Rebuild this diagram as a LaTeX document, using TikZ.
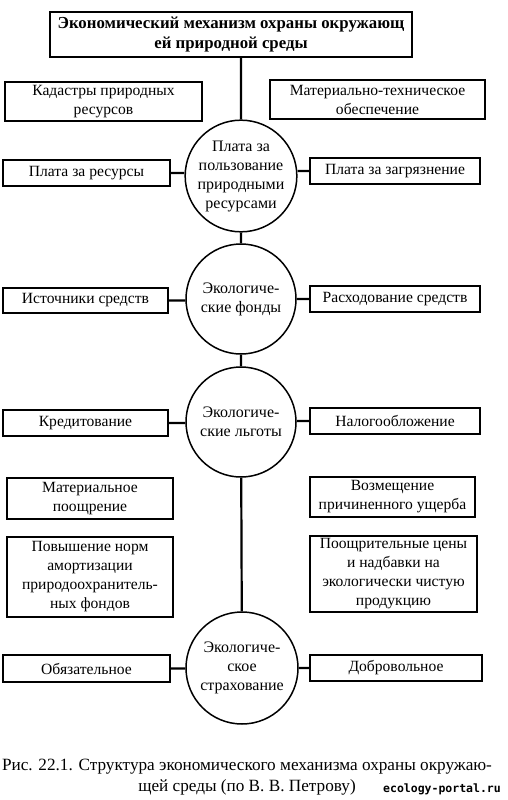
\documentclass[tikz,border=0pt]{standalone}
\usepackage{fontspec}
\setmainfont{Liberation Serif}
\newfontfamily\wmfont{DejaVu Sans Mono}
\begin{document}
\begin{tikzpicture}[x=1pt, y=-1pt]
\tikzstyle{box}=[draw, line width=1.3pt, rectangle, align=center, inner sep=0pt, font=\fontsize{15.6}{19}\selectfont];
\tikzstyle{circ}=[draw, line width=1.5pt, circle, align=center, inner sep=0pt, font=\fontsize{16}{19}\selectfont];
\tikzstyle{link}=[line width=2.2pt];
\useasboundingbox (0,0) rectangle (507,800);
\node [box, minimum width=362pt, minimum height=45pt, font=\fontsize{16.8}{20}\selectfont\bfseries] (t) at (231, 34.5) {Экономический механизм охраны окружающ\\ей природной среды};
\node [box, minimum width=197pt, minimum height=39pt] (k1) at (103.5, 101.5) {Кадастры природных\\ресурсов};
\node [box, minimum width=215pt, minimum height=39pt] (m1) at (377.5, 99.5) {Материально-техническое\\обеспечение};
% circles
\node [circ, minimum size=108pt] (c1) at (241, 176) {Плата за\\пользование\\природными\\ресурсами};
\node [circ, minimum size=110pt] (c2) at (241, 299) {Экологиче-\\ские фонды};
\node [circ, minimum size=110pt] (c3) at (241, 422) {Экологиче-\\ские льготы};
\node [circ, minimum size=112pt] (c4) at (242, 668) {Экологиче-\\ское\\страхование};
% side boxes
\node [box, minimum width=167pt, minimum height=26pt] (l1) at (86.5, 173) {Плата за ресурсы};
\node [box, minimum width=170pt, minimum height=26pt] (r1) at (395, 171) {Плата за загрязнение};
\node [box, minimum width=165pt, minimum height=25pt] (l2) at (85.5, 300.5) {Источники средств};
\node [box, minimum width=170pt, minimum height=26pt] (r2) at (395, 299) {Расходование средств};
\node [box, minimum width=165pt, minimum height=26pt] (l3) at (85.5, 423) {Кредитование};
\node [box, minimum width=170pt, minimum height=26pt] (r3) at (395, 421) {Налогообложение};
\node [box, minimum width=166pt, minimum height=41pt] (l4) at (90, 498.5) {Материальное\\поощрение};
\node [box, minimum width=166pt, minimum height=80pt] (l5) at (90, 577) {Повышение норм\\амортизации\\природоохранитель-\\ных фондов};
\node [box, minimum width=165pt, minimum height=40pt] (r4) at (392.5, 497) {Возмещение\\причиненного ущерба};
\node [box, minimum width=167pt, minimum height=76pt] (r5) at (393.5, 574) {Поощрительные цены\\и надбавки на\\экологически чистую\\продукцию};
\node [box, minimum width=167pt, minimum height=27pt] (l6) at (86.5, 668.5) {Обязательное};
\node [box, minimum width=172pt, minimum height=26pt] (r6) at (396, 668) {Добровольное};
\draw [link] (t.south -| c1.north) -- (c1.north)
(c1) -- (c2)
(c2) -- (c3)
(c3) -- (c4)
(l1.east) -- (l1.east -| c1.west)
(r1.west) -- (r1.west -| c1.east)
(l2.east) -- (l2.east -| c2.west)
(r2.west) -- (r2.west -| c2.east)
(l3.east) -- (l3.east -| c3.west)
(r3.west) -- (r3.west -| c3.east)
(l6.east) -- (l6.east -| c4.west)
(r6.west) -- (r6.west -| c4.east)
;
% caption
\node [align=center, inner sep=0pt, font=\fontsize{17.2}{21}\selectfont] (cap) at (247, 777) {Рис. 22.1. Структура экономического механизма охраны окружаю-\\щей среды (по В. В. Петрову)};
\node [inner sep=0pt, font=\wmfont\bfseries\fontsize{11.5}{12}\selectfont] (wm) at (442, 789) {ecology-portal.ru};
\end{tikzpicture}
\end{document}
